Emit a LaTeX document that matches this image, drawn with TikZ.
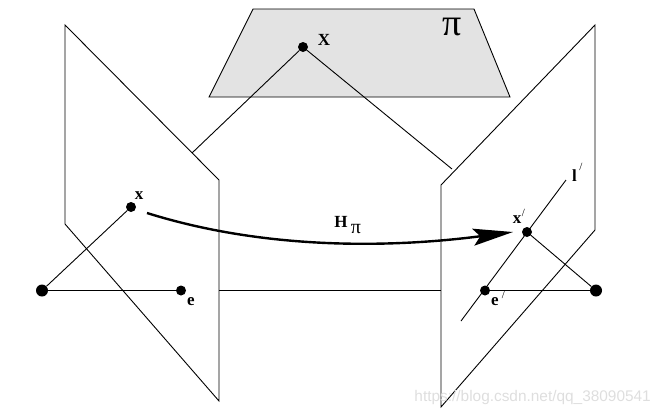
\documentclass[tikz,border=0pt]{standalone}
\usepackage{fontspec}
\setmainfont{Liberation Serif}
\newfontfamily\wmfont{Liberation Sans}
\usetikzlibrary{arrows.meta}
\tikzset{
  dotsmall/.style={circle,fill=black,inner sep=0pt,minimum size=10pt},
  dotbig/.style={circle,fill=black,inner sep=0pt,minimum size=12pt},
  plane/.style={draw=black,line width=0.9pt,line join=miter},
  ray/.style={draw=black,line width=0.9pt},
  lab/.style={font=\bfseries\fontsize{17}{17}\selectfont,inner sep=0pt},
  prm/.style={font=\fontsize{11}{11}\selectfont,inner sep=0pt}
}
\begin{document}
\begin{tikzpicture}[x=1pt,y=-1pt]
\useasboundingbox (0,0) rectangle (659,416);
% planes
\draw[plane,fill=black!11] (253,9) -- (474,9) -- (510,97) -- (209,97) -- cycle;
\draw[plane] (65,25) -- (219,180) -- (219,401) -- (65,224) -- cycle;
\draw[plane] (441,185) -- (595,25) -- (595,230) -- (441,407) -- cycle;
% points
\node[dotsmall] (X) at (303,47) {};
\node[dotsmall] (x) at (131,207) {};
\node[dotbig] (C) at (42,290.5) {};
\node[dotsmall] (e) at (181,290.5) {};
\node[dotsmall] (xp) at (527,232) {};
\node[dotsmall] (ep) at (485,290.5) {};
\node[dotbig] (Cp) at (596,290.5) {};
% free ends
\coordinate (Xl) at (192,153);
\coordinate (Xr) at (452,169);
\coordinate (bl) at (219,290.5);
\coordinate (br) at (441,290.5);
\coordinate (lt) at (566,180);
\coordinate (lb) at (461,321);
\coordinate (as) at (147,213);
% rays
\draw[ray] (X) -- (Xl);
\draw[ray] (X) -- (Xr);
\draw[ray] (C) -- (x);
\draw[ray] (C) -- (e);
\draw[ray] (bl) -- (br);
\draw[ray] (ep) -- (Cp);
\draw[ray] (xp) -- (Cp);
\draw[ray] (lb) -- (lt);
% transfer arrow
\coordinate (ae) at (513,232);
\draw[line width=2.4pt,-{Stealth[length=40pt,width=17pt,inset=7pt]}] (as) .. controls (265,250) and (390,248) .. (ae);
% labels
\node[lab] (lX) at (324,40) {X};
\node[lab] (lx) at (139,196) {x};
\node[lab] (le) at (191,302) {e};
\node[lab] (lxp) at (517,220) {x};
\node[prm] at (523.5,213) {/};
\node[lab] (lep) at (495,302) {e};
\node[prm] at (503.5,295) {/};
\node[lab] (ll) at (574.5,176) {l};
\node[prm] at (581,167) {/};
\node[lab] (H) at (341,222) {H};
\node[font=\fontsize{20}{20}\selectfont,inner sep=0pt] (pisub) at (356,229) {π};
\node[font=\fontsize{38}{38}\selectfont,inner sep=0pt] (pi) at (452,27) {π};
\node[anchor=east,font=\wmfont\fontsize{15.4}{15.4}\selectfont,text=black!13,inner sep=0pt] (wm) at (651,398) {https://blog.csdn.net/qq\_38090541};
\end{tikzpicture}
\end{document}
